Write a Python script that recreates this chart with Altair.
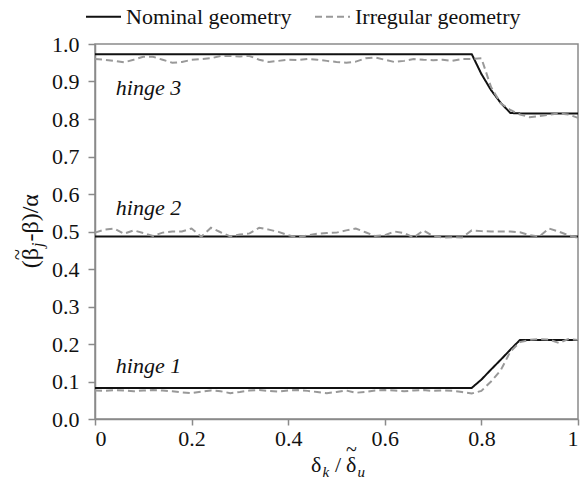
import altair as alt
import pandas as pd

# ---------------- data ----------------
nom_x = [0.0, 0.78, 0.80, 0.82, 0.84, 0.86, 0.88, 1.0]
hinge3_nom = [0.973, 0.973, 0.920, 0.877, 0.843, 0.816, 0.815, 0.815]
hinge2_nom = [0.487, 0.487, 0.487, 0.487, 0.487, 0.487, 0.487, 0.487]
hinge1_nom = [0.083, 0.083, 0.105, 0.132, 0.158, 0.185, 0.211, 0.211]

irr_x = [round(i * 0.02, 2) for i in range(51)]
hinge3_irr = [0.960, 0.958, 0.955, 0.951, 0.958, 0.966, 0.966, 0.958, 0.950, 0.952,
              0.958, 0.960, 0.962, 0.968, 0.968, 0.967, 0.968, 0.958, 0.952, 0.955,
              0.958, 0.957, 0.960, 0.958, 0.955, 0.952, 0.950, 0.953, 0.962, 0.964,
              0.958, 0.952, 0.955, 0.960, 0.958, 0.957, 0.958, 0.955, 0.960, 0.960,
              0.962, 0.885, 0.842, 0.824, 0.812, 0.805, 0.808, 0.811, 0.815, 0.812,
              0.803]
hinge2_irr = [0.497, 0.505, 0.508, 0.494, 0.503, 0.496, 0.488, 0.497, 0.500, 0.500,
              0.508, 0.486, 0.510, 0.498, 0.487, 0.492, 0.495, 0.510, 0.505, 0.499,
              0.490, 0.484, 0.490, 0.494, 0.496, 0.497, 0.503, 0.508, 0.498, 0.488,
              0.490, 0.500, 0.496, 0.484, 0.503, 0.488, 0.484, 0.485, 0.484, 0.503,
              0.501, 0.500, 0.500, 0.500, 0.498, 0.490, 0.487, 0.508, 0.500, 0.490,
              0.483]
hinge1_irr = [0.076, 0.075, 0.077, 0.076, 0.074, 0.076, 0.077, 0.076, 0.074, 0.071,
              0.069, 0.073, 0.076, 0.074, 0.069, 0.072, 0.076, 0.077, 0.075, 0.073,
              0.076, 0.077, 0.075, 0.072, 0.069, 0.072, 0.076, 0.070, 0.072, 0.076,
              0.077, 0.076, 0.074, 0.076, 0.077, 0.075, 0.076, 0.075, 0.072, 0.068,
              0.075, 0.100, 0.130, 0.180, 0.205, 0.211, 0.213, 0.212, 0.203, 0.213,
              0.211]

label_text = ["hinge 3", "hinge 2", "hinge 1"]
label_x = [0.043, 0.043, 0.043]
label_y = [0.883, 0.563, 0.141]

series_names = ["Nominal geometry", "Irregular geometry"]
x_ticks = [0, 0.2, 0.4, 0.6, 0.8, 1.0]
y_ticks = [0, 0.1, 0.2, 0.3, 0.4, 0.5, 0.6, 0.7, 0.8, 0.9, 1.0]

# ---------------- tables ----------------
rows = []
for h, ys in (("h3", hinge3_nom), ("h2", hinge2_nom), ("h1", hinge1_nom)):
    for x, y in zip(nom_x, ys):
        rows.append({"x": x, "y": y, "hinge": h, "series": series_names[0]})
for h, ys in (("h3", hinge3_irr), ("h2", hinge2_irr), ("h1", hinge1_irr)):
    for x, y in zip(irr_x, ys):
        rows.append({"x": x, "y": y, "hinge": h, "series": series_names[1]})
df = pd.DataFrame(rows)
df["key"] = df["series"] + df["hinge"]

labels_df = pd.DataFrame({"x": label_x, "y": label_y, "text": label_text})

FONT = "Liberation Serif, Times New Roman, Times, serif"
GRAY = "#8a8a8a"
INK = "#111111"

x_scale = alt.Scale(domain=[0, 1], nice=False)
y_scale = alt.Scale(domain=[0, 1], nice=False)

leg = alt.Legend(title=None, orient="none", direction="horizontal",
                 legendX=-10, legendY=-46,
                 symbolType="stroke", symbolSize=1225,
                 symbolStrokeWidth=2, labelFont=FONT,
                 labelFontSize=22, labelColor=INK, labelLimit=0,
                 labelOffset=4, columnPadding=19)

x_axis = alt.Axis(values=x_ticks, labelOverlap=False, tickCount=6, tickSize=6, labelPadding=3,
                  labelExpr="datum.value == 0 ? '0' : datum.value == 1 ? '1' : format(datum.value, '.1f')",
                  title=None)
y_axis = alt.Axis(values=y_ticks, labelOverlap=False, tickCount=11, tickSize=7, labelPadding=9,
                  format=".1f", title=None)

lines = alt.Chart(df).mark_line(strokeWidth=2).encode(
    x=alt.X("x:Q", scale=x_scale, axis=x_axis),
    y=alt.Y("y:Q", scale=y_scale, axis=y_axis),
    color=alt.Color("series:N",
                    scale=alt.Scale(domain=series_names, range=[INK, "#999999"]),
                    legend=leg),
    strokeDash=alt.StrokeDash("series:N",
                              scale=alt.Scale(domain=series_names, range=[[1, 0], [7, 4]]),
                              legend=leg),
    detail="key:N",
    order=alt.Order("x:Q"),
)

texts = alt.Chart(labels_df).mark_text(
    align="left", baseline="middle", font=FONT, fontSize=22, fontStyle="italic", color=INK
).encode(
    x=alt.X("x:Q", scale=x_scale, axis=x_axis),
    y=alt.Y("y:Q", scale=y_scale, axis=y_axis),
    text="text:N",
)

# ---- composed axis titles (with subscripts and tildes) ----
def piece(txt, x, y, size=22, italic=False, align="left", baseline="alphabetic", angle=0):
    kw = dict(align=align, baseline=baseline, font=FONT, fontSize=size, color=INK)
    if italic:
        kw["fontStyle"] = "italic"
    if angle:
        kw["angle"] = angle
    return alt.Chart(labels_df.head(1)).mark_text(**kw).encode(
        x=alt.value(x), y=alt.value(y), text=alt.value(txt))

xt = [
    piece("δ", 216, 428),
    piece("k", 227.5, 433, size=15, italic=True),
    piece("/", 243, 428, align="center"),
    piece("δ", 251, 428),
    piece("~", 256.5, 412, size=20, align="center"),
    piece("u", 262.5, 433, size=15, italic=True),
]

yt = [
    piece("(β", -57, 204, size=24, align="right", angle=270),
    piece("~", -71, 210.5, size=20, align="center", angle=270),
    piece("j", -52, 203, size=16, italic=True, align="left", angle=270),
    piece("-β)/α", -57, 197.5, size=24, align="left", angle=270),
]

chart = alt.layer(lines, texts, *xt, *yt).properties(
    width=483, height=375,
    autosize=alt.AutoSizeParams(type="none"),
    padding={"left": 95, "top": 44, "right": 4, "bottom": 66},
).configure_view(
    stroke=GRAY, strokeWidth=1.5
).configure_axis(
    grid=False, domainColor=GRAY, domainWidth=1.5, tickColor=GRAY, tickWidth=1.5,
    labelFont=FONT, labelFontSize=22, labelColor=INK, labelOverlap=False
)

chart.save("out.html", embed_options={"renderer": "svg", "actions": False})
